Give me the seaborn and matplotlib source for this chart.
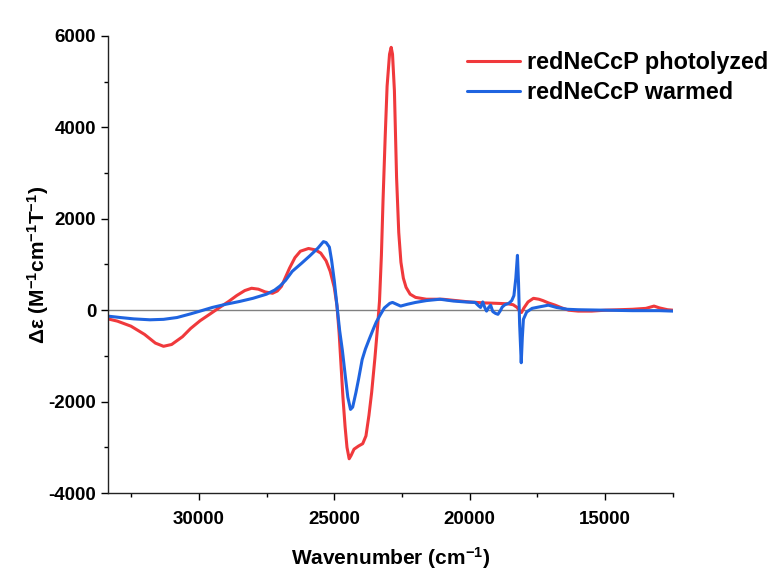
import matplotlib
matplotlib.use("Agg")
import matplotlib.pyplot as plt
import seaborn as sns
import pandas as pd
from matplotlib.ticker import MultipleLocator

# Wavenumber (cm-1) and delta-epsilon values
red_wn = [33350, 33000, 32500, 32000, 31600, 31300, 31000, 30600, 30300, 29950,
          29600, 29230, 28900, 28600, 28300, 28050, 27800, 27550, 27280, 27100,
          26950, 26800, 26650, 26450, 26250, 25950, 25700, 25500, 25300, 25150,
          25000, 24900, 24820, 24750, 24680, 24600, 24530, 24450, 24380, 24270,
          24100, 23950, 23830, 23720, 23620, 23500, 23400, 23330, 23260, 23200,
          23120, 23050, 22960, 22900, 22850, 22780, 22700, 22620, 22540, 22450,
          22350, 22200, 22000, 21600, 21000, 20500, 20000, 19500, 19000, 18600,
          18400, 18250, 18150, 18090, 18000, 17850, 17650, 17450, 17300, 17100,
          16850, 16600, 16350, 16000, 15500, 15000, 14500, 14000, 13500, 13200,
          13000, 12700, 12500]
red_de = [-190, -240, -350, -530, -720, -790, -750, -580, -400, -230,
          -90, 60, 190, 320, 430, 480, 460, 400, 370, 420,
          520, 720, 920, 1150, 1290, 1350, 1320, 1250, 1080, 850,
          500, 100, -500, -1200, -1900, -2550, -3000, -3250, -3180, -3040,
          -2970, -2920, -2750, -2300, -1800, -1050, -350, 200, 1200, 2400,
          3800, 4900, 5600, 5750, 5600, 4800, 2900, 1700, 1050, 700,
          500, 350, 280, 240, 240, 210, 180, 160, 150, 140,
          120, 60, -30, -50, 50, 180, 260, 240, 210, 160,
          110, 50, 0, -20, -20, 0, 10, 20, 40, 90,
          50, 10, 0]

blue_wn = [33350, 32900, 32400, 31800, 31300, 30800, 30300, 29950, 29500, 29000,
           28500, 28000, 27500, 27200, 27000, 26800, 26550, 26200, 25900, 25600,
           25400, 25300, 25180, 25100, 25000, 24900, 24800, 24700, 24600, 24500,
           24400, 24320, 24200, 24100, 23970, 23850, 23700, 23550, 23450, 23300,
           23150, 22950, 22850, 22700, 22550, 22300, 22000, 21600, 21100, 20600,
           20150, 19800, 19680, 19600, 19520, 19440, 19380, 19300, 19230, 19150,
           19050, 18960, 18880, 18800, 18700, 18560, 18450, 18370, 18300, 18240,
           18200, 18160, 18100, 18060, 18020, 17900, 17700, 17450, 17100, 16800,
           16400, 16000, 15000, 14000, 13000, 12500]
blue_de = [-130, -160, -190, -210, -200, -160, -80, -20, 60, 130,
           190, 260, 350, 440, 530, 650, 850, 1030, 1190, 1360,
           1500, 1480, 1380, 1100, 650, 100, -450, -880, -1400, -1900,
           -2170, -2120, -1800, -1500, -1080, -850, -620, -400, -260, -100,
           50, 150, 170, 130, 90, 130, 170, 210, 240, 200,
           180, 170, 100, 60, 180, 50, -20, 60, 110, -30,
           -70, -90, -20, 70, 120, 150, 210, 320, 700, 1200,
           600, -300, -1150, -600, -200, -40, 40, 70, 110, 60,
           20, 10, 0, -10, -10, -20]

red_label = "redNeCcP photolyzed"
blue_label = "redNeCcP warmed"

sns.set_style("ticks")
plt.rcParams['font.family'] = ['Liberation Sans', 'DejaVu Sans']
plt.rcParams['font.weight'] = 'bold'
plt.rcParams['mathtext.fontset'] = 'custom'
plt.rcParams['mathtext.rm'] = 'Liberation Sans:bold'
plt.rcParams['mathtext.bf'] = 'Liberation Sans:bold'
plt.rcParams['mathtext.default'] = 'bf'
plt.rcParams['axes.unicode_minus'] = False
for key in ['text.color', 'axes.labelcolor', 'xtick.color', 'ytick.color']:
    plt.rcParams[key] = 'black'

red_df = pd.DataFrame({"wn": red_wn, "de": red_de})
blue_df = pd.DataFrame({"wn": blue_wn, "de": blue_de})

fig = plt.figure(figsize=(7.74, 5.70), dpi=100)
ax = fig.add_axes([0.1395, 0.135, 0.73, 0.802])

ax.axhline(0, color="#808080", linewidth=1.0, zorder=1)
sns.lineplot(data=red_df, x="wn", y="de", color="#f0393c", linewidth=2.2,
             sort=False, estimator=None, label=red_label, ax=ax)
sns.lineplot(data=blue_df, x="wn", y="de", color="#1f64e0", linewidth=2.2,
             sort=False, estimator=None, label=blue_label, ax=ax)

ax.set_xlim(33350, 12500)
ax.set_ylim(-4000, 6000)
ax.xaxis.set_major_locator(MultipleLocator(5000))
ax.xaxis.set_minor_locator(MultipleLocator(2500))
ax.yaxis.set_major_locator(MultipleLocator(2000))
ax.yaxis.set_minor_locator(MultipleLocator(1000))
ax.tick_params(which="major", length=5, width=1, labelsize=13.5, direction="out")
ax.tick_params(axis="x", which="major", pad=8)
ax.tick_params(which="minor", length=3, width=1, direction="out")
for lab in ax.get_xticklabels() + ax.get_yticklabels():
    lab.set_fontweight("bold")

sns.despine(ax=ax)
for s in ["left", "bottom"]:
    ax.spines[s].set_linewidth(1.0)
    ax.spines[s].set_color("#222222")

ax.set_xlabel("Wavenumber (cm$^{-1}$)", fontsize=15, fontweight="bold", labelpad=12)
ax.set_ylabel("Δε (M$^{-1}$cm$^{-1}$T$^{-1}$)", fontsize=15, fontweight="bold", labelpad=-1.5)

ax.legend(loc="upper left", bbox_to_anchor=(0.603, 0.911), bbox_transform=fig.transFigure,
          frameon=False, handlelength=2.3, borderpad=0, borderaxespad=0,
          labelspacing=0.32, handletextpad=0.3, prop={"weight": "bold", "size": 16.8})

fig.savefig("out.png", dpi=100, facecolor="white")
